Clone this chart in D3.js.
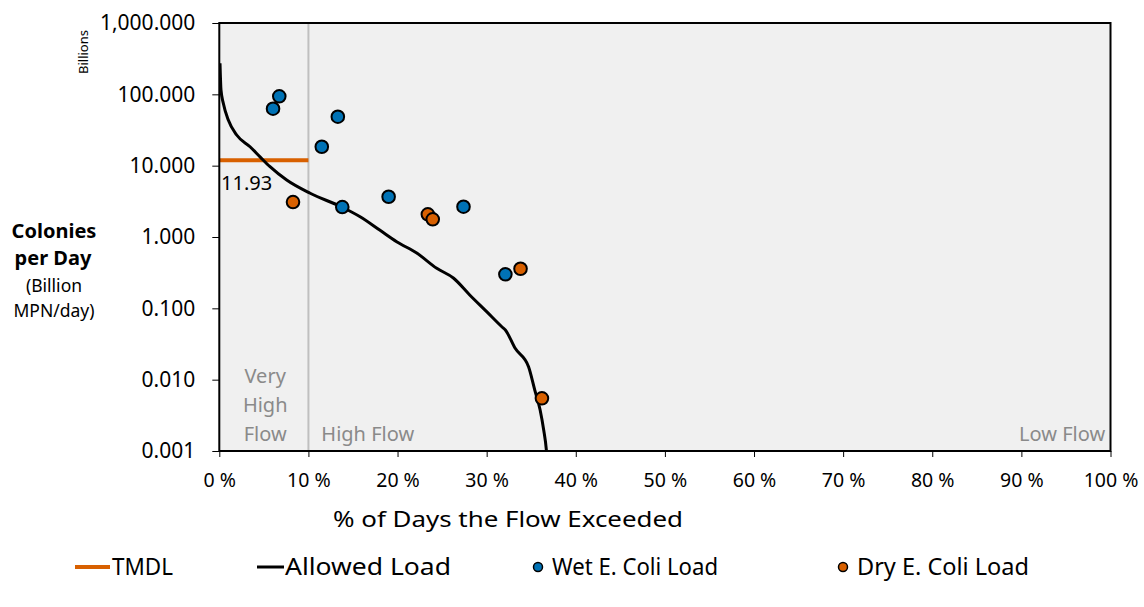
<!DOCTYPE html>
<html><head><meta charset="utf-8">
<script src="https://cdn.jsdelivr.net/npm/d3@7"></script>
<style>
html,body{margin:0;padding:0;background:#fff;}
text{font-family:"Noto Sans","Open Sans",sans-serif;}
</style></head>
<body><svg id="c" width="1144" height="607"></svg>
<script>
// ---- data ----
const allowedX = [0.08,0.19,0.45,1.01,1.95,3.45,4.57,5.69,7.56,10.2,13.8,15.8,18.0,19.9,22.2,24.4,26.3,28.1,30.0,31.7,32.1,33.2,34.7,35.4,36.0,36.4,36.7,36.8];
const allowedY = [272,115,74.9,43.7,26.9,18.4,13.3,9.67,6.29,4.10,2.61,1.92,1.25,0.86,0.59,0.364,0.264,0.154,0.0898,0.0552,0.0497,0.0275,0.0152,0.00716,0.00375,0.00197,0.00103,0.0007];
const wetX = [6.03,6.73,11.5,13.3,13.8,19.0,27.4,32.1];
const wetY = [62.9,93.8,18.4,48.6,2.63,3.67,2.66,0.300];
const dryX = [8.27,23.4,23.95,33.8,36.2];
const dryY = [3.09,2.08,1.77,0.359,0.00548];
const tmdlValue = 11.93;
const tmdlRange = [0,10];
const yTicks = [0.001,0.01,0.1,1,10,100,1000];
const xTicks = [0,10,20,30,40,50,60,70,80,90,100];
const legendLabels = ["TMDL","Allowed Load","Wet E. Coli Load","Dry E. Coli Load"];

const ORANGE="#d86000", BLUE="#0072b5";
const L=219.3, R=1110.5, T=23, B=451;
const svg=d3.select("#c");
const x=d3.scaleLinear().domain([0,100]).range([L,R]);
const y=d3.scaleLog().domain([0.001,1000]).range([B,T]);

svg.append("rect").attr("x",L).attr("y",T).attr("width",R-L).attr("height",B-T).attr("fill","#f0f0f0");
svg.append("defs").append("clipPath").attr("id","clip").append("rect").attr("x",L).attr("y",T).attr("width",R-L).attr("height",B-T);

// 10% divider
svg.append("line").attr("x1",x(10)).attr("x2",x(10)).attr("y1",T).attr("y2",B).attr("stroke","#bfbfbf").attr("stroke-width",2);

// flow zone labels
const zc="#8a8a8a";
["Very","High","Flow"].forEach((t,i)=>svg.append("text").attr("x",x(5.15)).attr("y",383+i*29).attr("text-anchor","middle").attr("font-size",20).attr("fill",zc).text(t));
svg.append("text").attr("x",x(11.45)).attr("y",441).attr("font-size",20).attr("fill",zc).text("High Flow");
svg.append("text").attr("x",x(99.4)).attr("y",441).attr("text-anchor","end").attr("font-size",20).attr("fill",zc).text("Low Flow");

// TMDL
svg.append("line").attr("x1",x(tmdlRange[0])).attr("x2",x(tmdlRange[1])).attr("y1",y(tmdlValue)).attr("y2",y(tmdlValue)).attr("stroke",ORANGE).attr("stroke-width",4);
svg.append("text").attr("x",x(0.2)).attr("y",y(tmdlValue)+30).attr("font-size",20).attr("fill","#000").text(tmdlValue.toFixed(2));

// allowed load
const line=d3.line().x(d=>x(d[0])).y(d=>y(d[1])).curve(d3.curveMonotoneX);
svg.append("path").datum(allowedX.map((v,i)=>[v,allowedY[i]])).attr("d",line).attr("fill","none").attr("stroke","#000").attr("stroke-width",3).attr("stroke-linejoin","round").attr("clip-path","url(#clip)");

// points
svg.append("g").selectAll("circle").data(wetX.map((v,i)=>[v,wetY[i]])).join("circle")
 .attr("cx",d=>x(d[0])).attr("cy",d=>y(d[1])).attr("r",6.3).attr("fill",BLUE).attr("stroke","#000").attr("stroke-width",2);
svg.append("g").selectAll("circle").data(dryX.map((v,i)=>[v,dryY[i]])).join("circle")
 .attr("cx",d=>x(d[0])).attr("cy",d=>y(d[1])).attr("r",6.3).attr("fill",ORANGE).attr("stroke","#000").attr("stroke-width",2);

// frame
svg.append("rect").attr("x",L).attr("y",T).attr("width",R-L).attr("height",B-T).attr("fill","none").attr("stroke","#000").attr("stroke-width",2);

// axes
const fmt=d3.format(",.3f");
const ya=svg.append("g").attr("transform",`translate(${L},0)`).call(d3.axisLeft(y).tickValues(yTicks).tickFormat(fmt).tickSizeOuter(0).tickSize(7).tickPadding(17));
ya.select(".domain").remove();
ya.selectAll("text").attr("font-size",21).attr("fill","#000").attr("font-family","Noto Sans");
ya.selectAll("line").attr("stroke","#000").attr("stroke-width",1);
const xa=svg.append("g").attr("transform",`translate(0,${B})`).call(d3.axisBottom(x).tickValues(xTicks).tickFormat(d=>d+" %").tickSizeOuter(0).tickSize(6).tickPadding(16));
xa.select(".domain").remove();
xa.selectAll("text").attr("font-size",19.5).attr("fill","#000").attr("font-family","Noto Sans");
xa.selectAll("line").attr("stroke","#000").attr("stroke-width",1);

// titles
svg.append("text").attr("x",508).attr("y",527).attr("text-anchor","middle").attr("font-size",21.5).attr("textLength",350).attr("lengthAdjust","spacingAndGlyphs").text("% of Days the Flow Exceeded");
svg.append("text").attr("x",54).attr("y",238).attr("text-anchor","middle").attr("font-size",20).attr("font-weight","bold").text("Colonies");
svg.append("text").attr("x",53).attr("y",265).attr("text-anchor","middle").attr("font-size",20).attr("font-weight","bold").text("per Day");
svg.append("text").attr("x",54).attr("y",292).attr("text-anchor","middle").attr("font-size",17.5).text("(Billion");
svg.append("text").attr("x",54).attr("y",317).attr("text-anchor","middle").attr("font-size",17.5).text("MPN/day)");
svg.append("text").attr("transform","translate(88,52) rotate(-90)").attr("text-anchor","middle").attr("font-size",13).text("Billions");

// legend
const ly=567;
const lg=svg.append("g");
lg.append("line").attr("x1",75).attr("x2",110).attr("y1",ly).attr("y2",ly).attr("stroke",ORANGE).attr("stroke-width",4);
lg.append("line").attr("x1",257).attr("x2",284).attr("y1",ly).attr("y2",ly).attr("stroke","#000").attr("stroke-width",3);
lg.append("circle").attr("cx",538).attr("cy",ly).attr("r",4.5).attr("fill",BLUE).attr("stroke","#000").attr("stroke-width",1.5);
lg.append("circle").attr("cx",843).attr("cy",ly).attr("r",4.5).attr("fill",ORANGE).attr("stroke","#000").attr("stroke-width",1.5);
const lx=[112,285,552,857], lw=[61,166,166,172];
legendLabels.forEach((t,i)=>lg.append("text").attr("x",lx[i]).attr("y",ly+8).attr("font-size",23).attr("textLength",lw[i]).attr("lengthAdjust","spacingAndGlyphs").text(t));
</script></body></html>
